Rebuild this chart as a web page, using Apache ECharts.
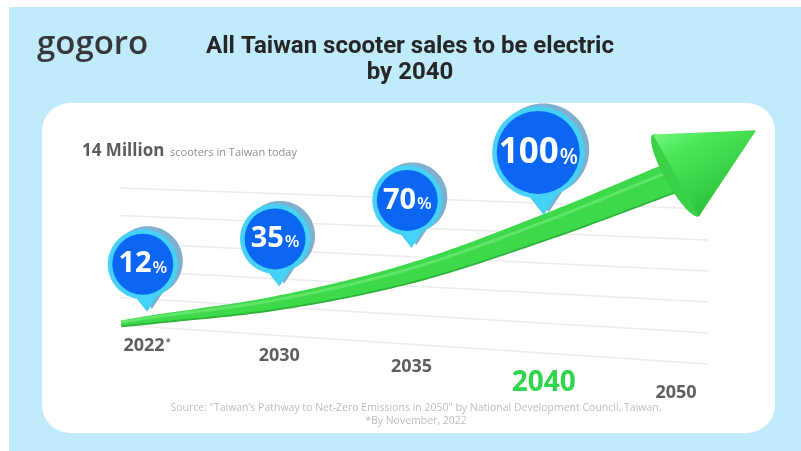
<!DOCTYPE html>
<html>
<head>
<meta charset="utf-8">
<script src="https://cdn.jsdelivr.net/npm/echarts@6/dist/echarts.min.js"></script>
<style>html,body{margin:0;padding:0;background:#fff}#c{width:801px;height:451px}</style>
</head>
<body>
<div id="c"></div>
<script>
// ---- data ----
const years = ['2022', '2030', '2035', '2040', '2050'];
const shares = [12, 35, 70, 100];            // % of new scooter sales that are electric
const arrowPath = [5, 21, 48, 89, 136];      // height of the green arrow at each year (same % axis)
const highlightYear = '2040';
const titleLines = ['All Taiwan scooter sales to be electric', 'by 2040'];
const subtitleBold = '14 Million';
const subtitleRest = 'scooters in Taiwan today';
const sourceLines = [
  'Source: "Taiwan\u2019s Pathway to Net-Zero Emissions in 2050" by National Development Council, Taiwan.',
  '*By November, 2022'
];
const logoText = 'gogoro';

// ---- styling ----
const labelFont = '"Open Sans", "DejaVu Sans", sans-serif';
const yearShift = [0, 10, 21, 37, 47];

const chart = echarts.init(document.getElementById('c'), null, {renderer: 'canvas'});

function gridLines() {
  const out = [];
  for (let k = 0; k < 6; k++) {
    out.push({
      type: 'line', silent: true,
      shape: {x1: 120, y1: 188 + k * 27.4, x2: 708, y2: 209 + k * 31},
      style: {stroke: '#ececf0', lineWidth: 1.5}
    });
  }
  return out;
}

function renderArrow(params, api) {
  const idx = params.dataIndex;
  const P = arrowPath.map((v, k) => api.coord([k, v]));
  const n = P.length;
  const tan = k => {
    const a = P[Math.max(k - 1, 0)], b = P[Math.min(k + 1, n - 1)];
    const f = (k === 0 || k === n - 1) ? 1 : 0.5;
    return [(b[0] - a[0]) * f, (b[1] - a[1]) * f];
  };
  const herm = (k, t) => {
    const p0 = P[k], p1 = P[k + 1], m0 = tan(k), m1 = tan(k + 1);
    const t2 = t * t, t3 = t2 * t;
    const a = 2 * t3 - 3 * t2 + 1, b = t3 - 2 * t2 + t, c = -2 * t3 + 3 * t2, d = t3 - t2;
    return [a * p0[0] + b * m0[0] + c * p1[0] + d * m1[0], a * p0[1] + b * m0[1] + c * p1[1] + d * m1[1]];
  };
  const dherm = (k, t) => {
    const p0 = P[k], p1 = P[k + 1], m0 = tan(k), m1 = tan(k + 1);
    const a = 6 * t * t - 6 * t, b = 3 * t * t - 4 * t + 1, c = -6 * t * t + 6 * t, d = 3 * t * t - 2 * t;
    return [a * p0[0] + b * m0[0] + c * p1[0] + d * m1[0], a * p0[1] + b * m0[1] + c * p1[1] + d * m1[1]];
  };
  if (idx === 0) {
    // whole shaft, tapering from thin to thick
    const up = [], dn = [], hi = [];
    const pushPt = (c, d, w) => {
      const L = Math.hypot(d[0], d[1]) || 1;
      const nx = -d[1] / L, ny = d[0] / L;
      up.push([c[0] - nx * w / 2, c[1] - ny * w / 2]);
      dn.push([c[0] + nx * w / 2, c[1] + ny * w / 2]);
      hi.push([c[0] - nx * w * 0.2, c[1] - ny * w * 0.2]);
    };
    const m = tan(0), L0 = Math.hypot(m[0], m[1]);
    pushPt([P[0][0] - m[0] / L0 * 26, P[0][1] - m[1] / L0 * 26], m, 5);
    const steps = 24;
    for (let k = 0; k < n - 1; k++) {
      for (let s = (k === 0 ? 0 : 1); s <= steps; s++) {
        const t = s / steps;
        const g = (k + t) / (n - 1);
        pushPt(herm(k, t), dherm(k, t), 7 + 23 * g);
      }
    }
    const poly = up.concat(dn.slice().reverse());
    const polyDark = poly.map(p => [p[0], p[1] + 1.8]);
    return {
      type: 'group',
      children: [
        {type: 'polygon', shape: {points: polyDark}, style: {fill: '#29b338'}},
        {type: 'polygon', shape: {points: poly}, style: {fill: '#3ed84b'}},
        {type: 'polyline', shape: {points: hi, smooth: 0}, style: {stroke: 'rgba(150,250,150,0.4)', lineWidth: 3, fill: null}}
      ]
    };
  }
  if (idx < n - 1) return null;
  // arrow head (cone) at the last point
  const B = P[n - 1];
  const m = tan(n - 1);
  const ang = Math.atan2(m[1], m[0]) - 8 * Math.PI / 180;
  const ux = Math.cos(ang), uy = Math.sin(ang);
  const nx = -uy, ny = ux;
  const Lc = 92, R = 47;
  const T = [B[0] + ux * Lc, B[1] + uy * Lc];
  const E1 = [B[0] - nx * R, B[1] - ny * R];
  const E2 = [B[0] + nx * R, B[1] + ny * R];
  const ell = [];
  for (let s = 0; s < 48; s++) {
    const a = s / 48 * Math.PI * 2;
    const ex = Math.cos(a) * 11, ey = Math.sin(a) * R;
    ell.push([B[0] + ux * ex + nx * ey, B[1] + uy * ex + ny * ey]);
  }
  const grad = {
    type: 'linear', global: true, x: E1[0], y: E1[1], x2: E2[0], y2: E2[1],
    colorStops: [{offset: 0, color: '#72f57d'}, {offset: 0.3, color: '#4be758'}, {offset: 1, color: '#2dc13d'}]
  };
  return {
    type: 'group',
    children: [
      {type: 'polygon', shape: {points: ell}, style: {fill: '#3ad148'}},
      {type: 'polygon', shape: {points: [E1, T, E2]}, style: {fill: grad}}
    ]
  };
}

function pinPoints(tip, r, dx, dy) {
  // teardrop: circle with a small pointer whose tip sits on the data point
  const s = 2 * r / 100;
  const cx = tip[0] - 6 * s + dx, cy = tip[1] - 68 * s + dy;
  const pts = [];
  for (let a = 100; a <= 425; a += 5) {
    const t = a * Math.PI / 180;
    pts.push([cx + Math.cos(t) * r, cy + Math.sin(t) * r]);
  }
  pts.push([tip[0] + dx, tip[1] + dy]);
  return {pts, cx, cy};
}

function renderBubble(params, api) {
  const v = api.value(1);
  const tip = api.coord([api.value(0), v]);
  const big = v >= 100;
  const r = big ? 46 : 35;
  const side = pinPoints(tip, r, 5, -3);
  const ring = pinPoints(tip, r, 0, 0);
  return {
    type: 'group',
    children: [
      {type: 'polygon', shape: {points: side.pts}, style: {fill: '#7fb0cf'}},
      {type: 'polygon', shape: {points: ring.pts}, style: {fill: '#45d2f6'}},
      {type: 'circle', shape: {cx: ring.cx, cy: ring.cy, r: r - 4.5}, style: {fill: '#0b67f2'}},
      {
        type: 'text', x: ring.cx, y: ring.cy + (big ? 1 : 0),
        style: {
          text: (big ? '{N|' : '{n|') + v + '}' + (big ? '{P|%}' : '{p|%}'),
          align: 'center', verticalAlign: 'middle',
          rich: {
            n: {fontSize: 29, fontWeight: 'bold', fill: '#fff', fontFamily: labelFont},
            p: {fontSize: 17, fontWeight: 600, fill: '#fff', fontFamily: labelFont, padding: [7, 0, 0, 1]},
            N: {fontSize: 35, fontWeight: 'bold', fill: '#fff', fontFamily: labelFont},
            P: {fontSize: 21, fontWeight: 600, fill: '#fff', fontFamily: labelFont, padding: [9, 0, 0, 1]}
          }
        }
      }
    ]
  };
}

const yearRich = {s: {fontSize: 9, fontWeight: 'bold', color: '#5e5e5e', fontFamily: labelFont, lineHeight: 20, padding: [0, 0, 8, 1]}};
years.forEach((y, i) => {
  const hl = y === highlightYear;
  yearRich['y' + i] = {
    fontSize: hl ? 28 : 18, lineHeight: 20 + 2 * yearShift[i], fontWeight: 'bold',
    color: hl ? '#2fd64b' : '#5e5e5e', fontFamily: labelFont
  };
});

const option = {
  animation: false,
  backgroundColor: '#ffffff',
  graphic: [
    {type: 'rect', silent: true, shape: {x: 9, y: 7, width: 792, height: 444}, style: {fill: '#bfebfb'}},
    {type: 'rect', silent: true, shape: {x: 42, y: 103, width: 733, height: 330, r: 28}, style: {fill: '#ffffff'}},
    ...gridLines(),
    {type: 'text', x: 37, y: 45, style: {text: logoText, font: '600 33px "Open Sans"', fill: '#38383c', verticalAlign: 'middle'}},
    {type: 'text', x: 410, y: 47, style: {text: titleLines[0], font: 'bold 24px Roboto', fill: '#262626', align: 'center', verticalAlign: 'middle'}},
    {type: 'text', x: 410, y: 73, style: {text: titleLines[1], font: 'bold 24px Roboto', fill: '#262626', align: 'center', verticalAlign: 'middle'}},
    {type: 'text', x: 82, y: 151, style: {text: subtitleBold, font: 'bold 17px "Open Sans"', fill: '#5b5b5b', verticalAlign: 'middle'}},
    {type: 'text', x: 170, y: 153, style: {text: subtitleRest, font: '11px "Open Sans"', fill: '#8e8e8e', verticalAlign: 'middle'}},
    {type: 'text', x: 416, y: 408, style: {text: sourceLines[0], font: '10.5px "Open Sans"', fill: '#bdbdbd', align: 'center', verticalAlign: 'middle'}},
    {type: 'text', x: 416, y: 421, style: {text: sourceLines[1], font: '10.5px "Open Sans"', fill: '#bdbdbd', align: 'center', verticalAlign: 'middle'}}
  ],
  grid: {left: 147, right: 125, top: 160, bottom: 126, containLabel: false},
  xAxis: {
    type: 'category', data: years, boundaryGap: false,
    axisLine: {show: false}, axisTick: {show: false}, splitLine: {show: false},
    axisLabel: {
      interval: 0, margin: 11,
      formatter: (v, i) => v === '2022' ? '{y0|2022}{s|*}' : '{y' + i + '|' + v + '}',
      rich: yearRich
    }
  },
  yAxis: {type: 'value', min: 0, max: 150, show: false},
  series: [
    {
      type: 'custom', z: 2, clip: false,
      renderItem: renderArrow,
      encode: {x: 0, y: 1},
      data: arrowPath.map((v, i) => [i, v])
    },
    {
      type: 'custom', z: 4, clip: false,
      renderItem: renderBubble,
      encode: {x: 0, y: 1},
      data: shares.map((v, i) => [i, v])
    }
  ]
};
chart.setOption(option);
</script>
</body>
</html>
